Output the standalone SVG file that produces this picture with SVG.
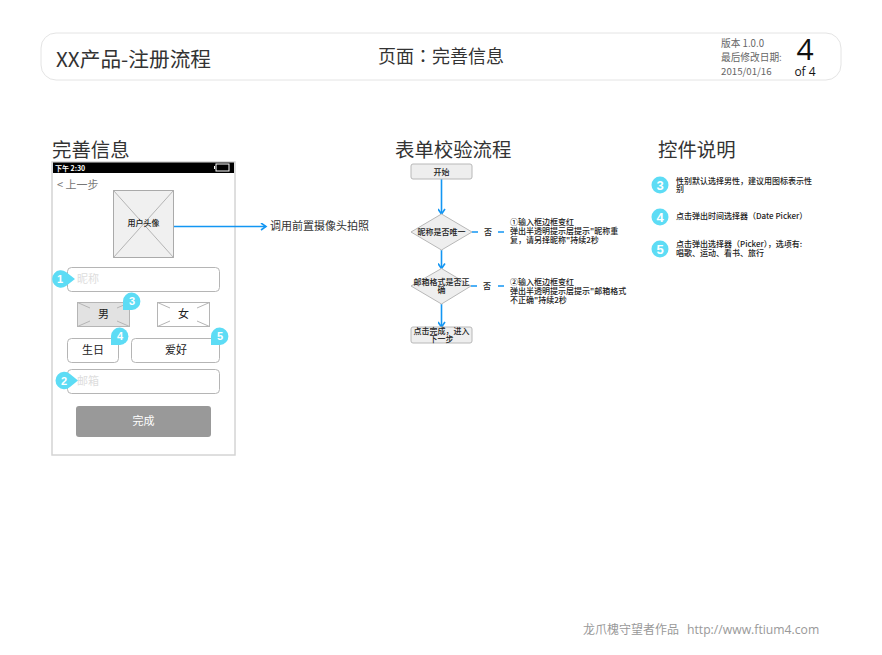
<svg xmlns="http://www.w3.org/2000/svg" width="882" height="655" viewBox="0 0 882 655">
<style>
text{font-family:"Noto Sans CJK SC","Liberation Sans",sans-serif;fill:#333}
.h{font-size:19.400px;fill:#333}
.s{font-size:8px;fill:#222;font-weight:500}
.f{font-size:8px;fill:#222;font-weight:500}
.b{font-size:11px;fill:#222;text-anchor:middle}
.ph{font-size:11px;fill:#ddd}
.n{font-size:11px;font-weight:700;fill:#fff;text-anchor:middle;font-family:"Liberation Sans",sans-serif}
.badge{fill:#5ddcf5}
.box{fill:#fff;stroke:#b5b5b5;stroke-width:1}
.x{stroke:#b5b5b5;stroke-width:1;fill:none}
.fl{fill:#eee;stroke:#b8b8b8;stroke-width:1}
.c{stroke:#1396f3;stroke-width:1.6;fill:none}
.m{text-anchor:middle}
.meta{font-size:9.700px;fill:#666}
</style>
<defs>
<marker id="a" markerUnits="userSpaceOnUse" markerWidth="8" markerHeight="8" refX="6" refY="4" orient="auto"><path d="M1,0.5 L6,4 L1,7.5" fill="none" stroke="#1396f3" stroke-width="1.6"/></marker>
</defs>
<rect width="882" height="655" fill="#fff"/>
<g id="header">
<rect x="41" y="33" width="800" height="47" rx="15" fill="#fff" stroke="#e4e4e4"/>
<text x="56" y="66.500" style="font-size:20.700px">XX产品-注册流程</text>
<text x="378" y="63" style="font-size:18px;font-family:'Noto Sans CJK TC',sans-serif">页面：完善信息</text>
<text x="721" y="47" class="meta">版本 1.0.0</text>
<text x="721" y="61" class="meta">最后修改日期:</text>
<text x="721" y="75" class="meta">2015/01/16</text>
<text x="805" y="60" class="m" style="font-size:30px;fill:#111;font-family:'Open Sans',sans-serif">4</text>
<text x="805" y="76" class="m" style="font-size:12px;fill:#111;font-family:'Open Sans',sans-serif">of 4</text>
</g>
<g id="titles">
<text x="52" y="157" class="h">完善信息</text>
<text x="395" y="157" class="h">表单校验流程</text>
<text x="658" y="157" class="h">控件说明</text>
</g>
<g id="phone">
<rect x="52" y="162" width="183" height="293" fill="#fff" stroke="#d4d4d4" stroke-width="1.5"/>
<rect x="53" y="162.500" width="181" height="10.500" fill="#000"/>
<text x="55" y="170.500" style="font-size:7px;fill:#fff;font-weight:700">下午 2:30</text>
<rect x="216" y="164" width="13" height="7" fill="#000" stroke="#fff"/>
<rect x="214" y="166" width="1" height="3" fill="#fff"/>
<text x="57" y="189" style="font-size:11px;fill:#777">&lt; 上一步</text>
</g>
<g id="avatar">
<rect x="113.500" y="190.500" width="60" height="67" fill="#f0f0f0" stroke="#aaa"/>
<path d="M113.500,190.500 L173.500,257.500 M173.500,190.500 L113.500,257.500" class="x"/>
<text x="143.500" y="226" class="m" style="font-size:8px;fill:#222;font-weight:500">用户头像</text>
</g>
<g id="field-nick">
<rect x="67.500" y="267.500" width="152" height="24" rx="4" class="box"/>
<text x="77" y="283" class="ph">昵称</text>
</g>
<g id="btn-male">
<rect x="77.500" y="302.500" width="52" height="24" fill="#e2e2e2" stroke="#b5b5b5"/>
<path d="M77.500,302.500 L90,308 M129.500,302.500 L117,308 M77.500,326.500 L90,321 M129.500,326.500 L117,321" class="x"/>
<text x="103.500" y="318" class="b">男</text>
</g>
<g id="btn-female">
<rect x="157.500" y="302.500" width="52" height="24" fill="#fff" stroke="#b5b5b5"/>
<path d="M157.500,302.500 L170,308 M209.500,302.500 L197,308 M157.500,326.500 L170,321 M209.500,326.500 L197,321" class="x"/>
<text x="183.500" y="318" class="b">女</text>
</g>
<g id="btn-birthday">
<rect x="67.500" y="338.500" width="51" height="24" rx="4" class="box"/>
<text x="93" y="354" class="b">生日</text>
</g>
<g id="btn-hobby">
<rect x="131.500" y="338.500" width="88" height="24" rx="4" class="box"/>
<text x="176" y="354" class="b">爱好</text>
</g>
<g id="field-email">
<rect x="67.500" y="369.500" width="152" height="24" rx="4" class="box"/>
<text x="77" y="385" class="ph">邮箱</text>
</g>
<g id="btn-done">
<rect x="76" y="406" width="135" height="31" rx="3" fill="#999"/>
<text x="143.500" y="425" class="m" style="font-size:11px;fill:#fff">完成</text>
</g>
<g id="badge-1"><path class="badge" d="M75,279 L66,272 A8.700,8.700 0 1 0 66,286 Z"/><text x="60" y="283" class="n">1</text></g>
<g id="badge-2"><path class="badge" d="M78,380.500 L70,374 A8.700,8.700 0 1 0 70,387 Z"/><text x="64" y="384.500" class="n">2</text></g>
<g id="badge-3"><path class="badge" d="M123,310 L123,301 A8.700,8.700 0 1 1 132,310 Z"/><text x="132" y="305" class="n">3</text></g>
<g id="badge-4"><path class="badge" d="M111,345 L111,336 A8.700,8.700 0 1 1 120,345 Z"/><text x="120" y="340" class="n">4</text></g>
<g id="badge-5"><path class="badge" d="M211,345 L211,336 A8.700,8.700 0 1 1 220,345 Z"/><text x="220" y="340" class="n">5</text></g>
<g id="connectors">
<path class="c" d="M174,226.500 L266,226.500" marker-end="url(#a)"/>
<path class="c" d="M441.500,179 L441.500,214" marker-end="url(#a)"/>
<path class="c" d="M441.500,250 L441.500,268.500" marker-end="url(#a)"/>
<path class="c" d="M441.500,304 L441.500,327" marker-end="url(#a)"/>
<path class="c" d="M472,232 L478,232 M498,232 L504,232"/>
<path class="c" d="M471,286 L477,286 M498,286 L504,286"/>
</g>
<text x="270" y="230" style="font-size:11px;fill:#333">调用前置摄像头拍照</text>
<g id="flow-start">
<rect x="411" y="164" width="61" height="15" rx="2" class="fl"/>
<text x="441.500" y="174.500" class="f m">开始</text>
</g>
<g id="flow-d1">
<polygon points="411,232 441.500,214 472,232 441.500,250" class="fl"/>
<text x="441.500" y="235" class="f m">昵称是否唯一</text>
</g>
<g id="flow-d2">
<polygon points="411,286 441.500,268.500 471,286 441.500,304" class="fl"/>
<text x="441.500" y="285" class="f m">邮箱格式是否正</text>
<text x="441.500" y="293" class="f m">确</text>
</g>
<g id="flow-end">
<rect x="411" y="327" width="61" height="16" rx="2" class="fl"/>
<text x="441.500" y="334" class="f m">点击完成，进入</text>
<text x="441.500" y="342" class="f m">下一步</text>
</g>
<text x="488" y="235" class="f m">否</text>
<text x="487" y="289" class="f m">否</text>
<g id="note-1">
<text x="510" y="225" class="f">①输入框边框变红</text>
<text x="510" y="234" class="f">弹出半透明提示层提示"昵称重</text>
<text x="510" y="243" class="f">复，请另择昵称"持续2秒</text>
</g>
<g id="note-2">
<text x="510" y="285" class="f">②输入框边框变红</text>
<text x="510" y="294" class="f">弹出半透明提示层提示"邮箱格式</text>
<text x="510" y="303" class="f">不正确"持续2秒</text>
</g>
<g id="legend-3">
<circle cx="660" cy="185" r="8.500" class="badge"/><text x="660" y="189.500" class="n" style="font-size:13px">3</text>
<text x="676" y="184" class="s">性别默认选择男性，建议用图标表示性</text>
<text x="676" y="192" class="s">别</text>
</g>
<g id="legend-4">
<circle cx="660" cy="217" r="8.500" class="badge"/><text x="660" y="221.500" class="n" style="font-size:13px">4</text>
<text x="676" y="219" class="s">点击弹出时间选择器（Date Picker）</text>
</g>
<g id="legend-5">
<circle cx="660" cy="249" r="8.500" class="badge"/><text x="660" y="253.500" class="n" style="font-size:13px">5</text>
<text x="676" y="247" class="s">点击弹出选择器（Picker），选项有:</text>
<text x="676" y="256" class="s">唱歌、运动、看书、旅行</text>
</g>
<text x="583" y="633.500" style="font-size:12px;fill:#999">龙爪槐守望者作品</text>
<text x="687" y="633.500" style="font-size:12.200px;fill:#999;font-family:'Open Sans',sans-serif">http://www.ftium4.com</text>
</svg>
